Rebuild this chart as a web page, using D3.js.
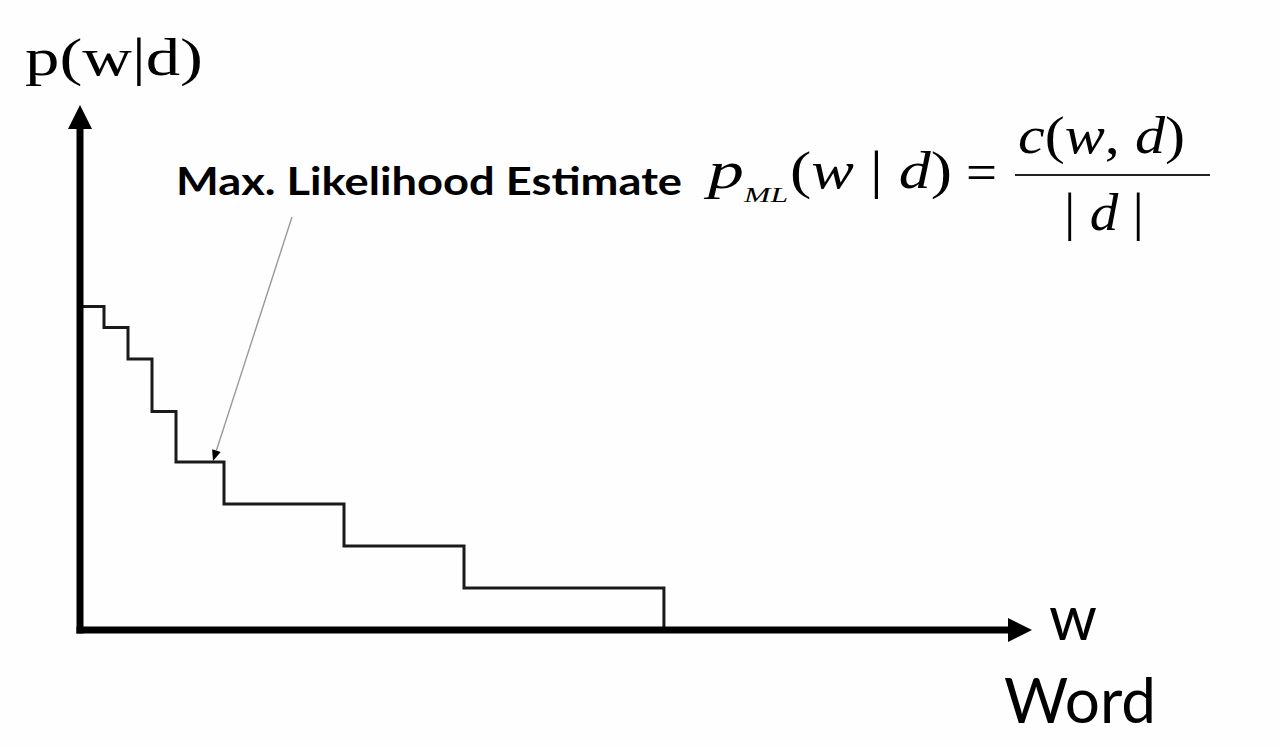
<!DOCTYPE html>
<html><head><meta charset="utf-8">
<script src="https://cdn.jsdelivr.net/npm/d3@7"></script>
<style>html,body{margin:0;padding:0;background:#fff;}svg{display:block;}</style>
</head><body>
<script>
// Data: word rank boundaries (x) and ML probability levels (y), arbitrary units
const stepEdges  = [0, 1, 2, 3, 4, 6, 11, 16, 24.33];
const stepLevels = [7.7, 7.2, 6.45, 5.2, 4, 3, 2, 1, 0];
const yLabel = "p(w|d)";
const xLabel = "w";
const xTitle = "Word";
const annotation = "Max. Likelihood Estimate";

const W = 1280, H = 747;
const svg = d3.select("body").append("svg").attr("width", W).attr("height", H);
svg.append("rect").attr("width", W).attr("height", H).attr("fill", "#fefefe");

const x = d3.scaleLinear().domain([0, 40]).range([80, 1040]);
const y = d3.scaleLinear().domain([0, 12.5]).range([630, 105]);

// step function
const pts = stepEdges.map((e, i) => [e, stepLevels[i]]);
const line = d3.line().x(d => x(d[0])).y(d => y(d[1])).curve(d3.curveStepAfter);
svg.append("path").attr("d", line(pts)).attr("fill", "none")
  .attr("stroke", "#1a1a1a").attr("stroke-width", 3).attr("stroke-linejoin", "miter");

// axes
const x0 = x(0), y0 = y(0);
const yTip = 105, xTip = 1032;
svg.append("line").attr("x1", x0).attr("x2", x0).attr("y1", y0 + 3.5).attr("y2", yTip + 20)
  .attr("stroke", "#000").attr("stroke-width", 7);
svg.append("path").attr("d", `M${x0},${yTip} L${x0 - 12},${yTip + 24} L${x0 + 12},${yTip + 24} Z`).attr("fill", "#000");
svg.append("line").attr("x1", x0 - 3.5).attr("x2", xTip - 20).attr("y1", y0).attr("y2", y0)
  .attr("stroke", "#000").attr("stroke-width", 7);
svg.append("path").attr("d", `M${xTip},${y0} L${xTip - 24},${y0 - 12} L${xTip - 24},${y0 + 12} Z`).attr("fill", "#000");

// axis labels
svg.append("text").attr("x", 25).attr("y", 75).attr("font-family", "Liberation Serif")
  .attr("font-size", 52).attr("textLength", 178).attr("lengthAdjust", "spacingAndGlyphs")
  .attr("fill", "#000").text(yLabel);
svg.append("text").attr("x", 1049).attr("y", 640).attr("font-family", "Lato")
  .attr("font-size", 62).attr("textLength", 48).attr("lengthAdjust", "spacingAndGlyphs")
  .attr("fill", "#000").text(xLabel);
svg.append("text").attr("x", 1004).attr("y", 723).attr("font-family", "Lato")
  .attr("font-size", 61).attr("textLength", 152).attr("lengthAdjust", "spacingAndGlyphs")
  .attr("fill", "#000").text(xTitle);

// annotation
svg.append("text").attr("x", 176).attr("y", 195).attr("font-family", "Lato")
  .attr("font-weight", "bold").attr("font-size", 39).attr("textLength", 506)
  .attr("lengthAdjust", "spacingAndGlyphs").attr("fill", "#000").text(annotation);
const ax1 = 292, ay1 = 217, ax2 = x(5.5) - 119 + 0, ay2 = y(4) - 1;
const tipX = 213, tipY = 461;
const ang = Math.atan2(tipY - ay1, tipX - ax1);
const hl = 11, hw = 4.5;
const bx = tipX - hl * Math.cos(ang), by = tipY - hl * Math.sin(ang);
svg.append("line").attr("x1", ax1).attr("y1", ay1).attr("x2", bx).attr("y2", by)
  .attr("stroke", "#999").attr("stroke-width", 1.4);
svg.append("path").attr("d", `M${tipX},${tipY} L${bx + hw * Math.sin(ang)},${by - hw * Math.cos(ang)} L${bx - hw * Math.sin(ang)},${by + hw * Math.cos(ang)} Z`)
  .attr("fill", "#000");

// formula
const f = svg.append("g").attr("font-family", "Liberation Serif").attr("fill", "#000");
function t(str, xx, yy, size, len, italic) {
  return f.append("text").attr("x", xx).attr("y", yy).attr("font-size", size)
    .attr("font-style", italic ? "italic" : "normal")
    .attr("textLength", len).attr("lengthAdjust", "spacingAndGlyphs").text(str);
}
t("p", 708, 188, 52, 36, true);
t("ML", 744, 202, 22, 44, true);
const g1 = t("", 790, 188, 52, 162, false);
g1.append("tspan").text("(");
g1.append("tspan").attr("font-style", "italic").text("w");
g1.append("tspan").text(" | ");
g1.append("tspan").attr("font-style", "italic").text("d");
g1.append("tspan").text(")");
t("=", 966, 190, 52, 31, false);
svg.append("line").attr("x1", 1015).attr("x2", 1210).attr("y1", 175).attr("y2", 175)
  .attr("stroke", "#222").attr("stroke-width", 2);
const num = t("", 1018, 153, 52, 167, false);
num.append("tspan").attr("font-style", "italic").text("c");
num.append("tspan").text("(");
num.append("tspan").attr("font-style", "italic").text("w");
num.append("tspan").text(", ");
num.append("tspan").attr("font-style", "italic").text("d");
num.append("tspan").text(")");
const den = t("", 1064, 230, 52, 80, false);
den.append("tspan").text("| ");
den.append("tspan").attr("font-style", "italic").text("d");
den.append("tspan").text(" |");
</script>
</body></html>
